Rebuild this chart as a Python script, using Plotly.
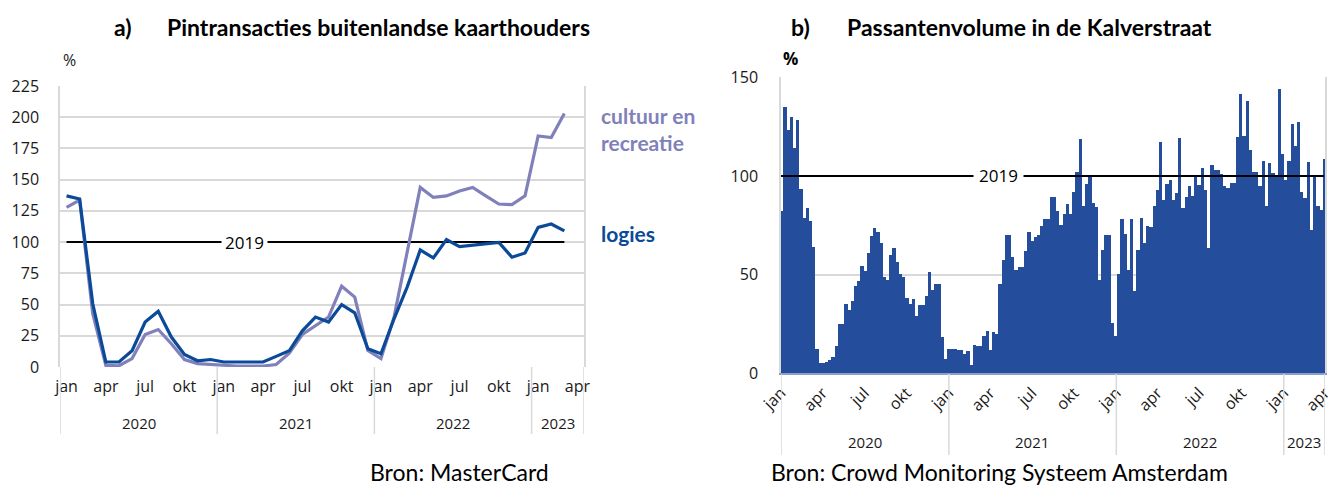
import plotly.graph_objects as go
import pandas as pd

# ---------------- data: panel a (monthly, jan 2020 - mrt 2023) ----------------
month_idx = list(range(39))
logies = [137, 134.5, 50.6, 4, 4, 13, 36, 44.7, 24, 10, 5, 6, 4, 4, 4, 4, 8.5, 13, 29, 40,
          36, 50, 43.4, 14.6, 10.6, 38.6, 64, 93.7, 87.3, 102, 96.4, 97.7, 98.5, 99.8, 87.9,
          91.3, 111.8, 114.5, 109]
cultuur = [127.8, 133.7, 42.6, 1.3, 1, 6.7, 26, 30, 18.6, 6, 2.7, 2, 1, 0.8, 0.8, 0.8, 2, 11,
           26, 33, 40, 64.7, 56, 13.3, 6.7, 40, 90.5, 143.8, 135.8, 137, 141, 143.8, 137,
           130.5, 130, 137, 185, 183.7, 203]
ref_2019 = 100
a_ticks = [0, 3, 6, 9, 12, 15, 18, 21, 24, 27, 30, 33, 36, 39]
a_ticktext = ['jan', 'apr', 'jul', 'okt'] * 3 + ['jan', 'apr']
years = ['2020', '2021', '2022', '2023']
a_year_start = [-0.5, 11.5, 23.5, 35.5]
a_year_end = [11.5, 23.5, 35.5, 39.5]

# ---------------- data: panel b (weekly passers-by, % of 2019) ----------------
kalver = [82, 135, 123, 129.6, 114, 128, 93, 78.5, 83.6, 77, 64, 12, 5, 5, 5.5, 6.5, 8, 13.8,
          24.8, 24.8, 35, 32, 36.6, 44, 46.5, 54, 51.5, 61, 69.5, 73.5, 71.5, 66, 48.6, 47.3,
          60, 63.3, 56, 50, 48.6, 38, 35, 37.7, 29, 34.6, 34.6, 39, 51.4, 42, 45.3, 45.3,
          18.2, 7.3, 12.2, 12.2, 12.2, 11.5, 11.5, 9.8, 11.3, 4, 14, 13.5, 13.5, 18.6, 21.5,
          11.8, 21, 20, 45, 57.4, 70, 70, 59, 52, 53.5, 53.5, 62, 71.3, 66.7, 69, 69.8, 74.3,
          78, 78, 89, 89, 82, 74.8, 80.7, 85.8, 80.6, 91.6, 102, 118.6, 84.5, 96, 99.7, 86,
          84, 47, 62.5, 69.8, 69.8, 25.3, 18.6, 50.3, 78, 70.6, 52.4, 78.2, 41.4, 62.5, 78.5,
          65.9, 74.3, 74, 84.5, 92.6, 117, 87.8, 95.8, 97.6, 87.8, 91.2, 119, 83.6, 89.2,
          94.6, 89.5, 99.3, 95.4, 103.9, 92.6, 63.3, 105.6, 103, 103, 101, 94.6, 93.8, 96.3,
          96.3, 119.4, 141.6, 120, 138, 112.8, 102, 102, 95, 107.6, 84.5, 106.4, 101.4, 99.3,
          144, 111, 98, 107.6, 126.4, 114.9, 127.2, 91.9, 88.7, 106.8, 72.6, 99.7, 84.8, 82.8,
          108.4]
weeks = pd.date_range('2019-12-30', periods=len(kalver), freq='7D')
b_range = ['2020-01-01', '2023-04-01']
b_ticks = pd.date_range('2020-01-01', '2023-04-01', freq='3MS')
b_ticktext = ['jan', 'apr', 'jul', 'okt'] * 3 + ['jan', 'apr']
b_year_start = ['2020-01-01', '2021-01-01', '2022-01-01', '2023-01-01']
b_year_end = ['2021-01-01', '2022-01-01', '2023-01-01', '2023-04-01']

# ---------------- styling ----------------
W, H = 1338, 485
def px(x):
    return x / W
def py(y):
    return 1 - y / H

C_LOG = '#0B4A99'
C_CUL = '#8080BA'
C_BAR = '#244E9C'
GRID = '#D9D9D9'
TICKFONT = dict(family='Open Sans', size=16, color='#1a1a1a')
TITLEFONT = dict(family='Lato', size=23, color='#000000')

fig = go.Figure()

# panel a
fig.add_trace(go.Scatter(x=month_idx, y=[ref_2019] * len(month_idx), mode='lines',
                         line=dict(color='black', width=2), xaxis='x', yaxis='y',
                         showlegend=False, hoverinfo='skip'))
fig.add_trace(go.Scatter(x=month_idx, y=cultuur, mode='lines', name='cultuur en recreatie',
                         line=dict(color=C_CUL, width=3.2), xaxis='x', yaxis='y',
                         showlegend=False))
fig.add_trace(go.Scatter(x=month_idx, y=logies, mode='lines', name='logies',
                         line=dict(color=C_LOG, width=3.2), xaxis='x', yaxis='y',
                         showlegend=False))

# panel b
day_ms = 86400000
fig.add_trace(go.Bar(x=weeks, y=kalver, width=7 * day_ms, offset=0,
                     marker=dict(color=C_BAR, line=dict(width=0)),
                     xaxis='x2', yaxis='y2', showlegend=False))
fig.add_trace(go.Scatter(x=[b_range[0], '2023-03-30'], y=[ref_2019, ref_2019], mode='lines',
                         line=dict(color='black', width=2), xaxis='x2', yaxis='y2',
                         showlegend=False, hoverinfo='skip'))

fig.update_layout(
    width=W, height=H,
    margin=dict(l=0, r=0, t=0, b=0, autoexpand=False),
    paper_bgcolor='white', plot_bgcolor='white',
    bargap=0,
    xaxis=dict(domain=[px(60), px(584)], range=[-0.5, 39.5], tickmode='array',
               tickvals=a_ticks, ticktext=a_ticktext, showgrid=False, zeroline=False,
               showline=False, ticks='', tickfont=TICKFONT, ticklabelstandoff=8,
               automargin=False, anchor='y'),
    yaxis=dict(domain=[py(367), py(86)], range=[0, 225], dtick=25, tick0=0,
               showgrid=True, gridcolor=GRID, gridwidth=1.5, zeroline=False,
               showline=True, linecolor=GRID, linewidth=1.5, mirror=True,
               ticks='', tickfont=TICKFONT, ticklabelstandoff=16, automargin=False,
               anchor='x'),
    xaxis2=dict(domain=[px(781), px(1325)], type='date', range=b_range, tickmode='array',
                tickvals=list(b_ticks), ticktext=b_ticktext, tickangle=-45,
                showgrid=False, zeroline=False, showline=True, linecolor='#8C9FCB',
                linewidth=2, ticks='', tickfont=TICKFONT, ticklabelstandoff=2,
                automargin=False, anchor='y2'),
    yaxis2=dict(domain=[py(373.3), py(77.3)], range=[0, 150], dtick=50, tick0=0,
                showgrid=True, gridcolor=GRID, gridwidth=1.5, zeroline=False,
                showline=True, linecolor=GRID, linewidth=1.5, mirror=True,
                ticks='', tickfont=TICKFONT, ticklabelstandoff=18, automargin=False,
                anchor='x2'),
)

shapes = []
for xs in a_year_start + [a_year_end[-1]]:
    shapes.append(dict(type='line', xref='x', yref='paper', x0=xs, x1=xs,
                       y0=py(367), y1=py(434), line=dict(color=GRID, width=1.5)))
for xs in b_year_start + [b_year_end[-1]]:
    shapes.append(dict(type='line', xref='x2', yref='paper', x0=xs, x1=xs,
                       y0=py(374), y1=py(455), line=dict(color=GRID, width=1.5)))
fig.update_layout(shapes=shapes)

ann = []
# titles
ann.append(dict(text='<b>a)</b>', x=px(112), y=py(27), xref='paper', yref='paper',
                xanchor='left', yanchor='middle', showarrow=False, font=TITLEFONT))
ann.append(dict(text='<b>Pintransacties buitenlandse kaarthouders</b>', x=px(165), y=py(27),
                xref='paper', yref='paper', xanchor='left', yanchor='middle',
                showarrow=False, font=TITLEFONT))
ann.append(dict(text='<b>b)</b>', x=px(789), y=py(27), xref='paper', yref='paper',
                xanchor='left', yanchor='middle', showarrow=False, font=TITLEFONT))
ann.append(dict(text='<b>Passantenvolume in de Kalverstraat</b>', x=px(845), y=py(27),
                xref='paper', yref='paper', xanchor='left', yanchor='middle',
                showarrow=False, font=TITLEFONT))
# % labels
ann.append(dict(text='%', x=px(61), y=py(60), xref='paper', yref='paper', xanchor='left',
                yanchor='middle', showarrow=False,
                font=dict(family='Open Sans', size=16, color='#1a1a1a')))
ann.append(dict(text='<b>%</b>', x=px(781), y=py(58), xref='paper', yref='paper',
                xanchor='left', yanchor='middle', showarrow=False,
                font=dict(family='Open Sans', size=17, color='#000000')))
# series labels
ann.append(dict(text='<b>cultuur en<br>recreatie</b>', x=px(599), y=py(129), xref='paper',
                yref='paper', xanchor='left', yanchor='middle', align='left',
                showarrow=False, font=dict(family='Lato', size=21, color=C_CUL)))
ann.append(dict(text='<b>logies</b>', x=px(599), y=py(233), xref='paper', yref='paper',
                xanchor='left', yanchor='middle', showarrow=False,
                font=dict(family='Lato', size=21, color=C_LOG)))
# 2019 labels
ann.append(dict(text='2019', x=13.6, y=ref_2019, xref='x', yref='y', xanchor='center',
                yanchor='middle', showarrow=False, bgcolor='white', borderpad=3,
                font=dict(family='Open Sans', size=17, color='#000000')))
ann.append(dict(text='2019', x='2021-04-20', y=ref_2019, xref='x2', yref='y2',
                xanchor='center', yanchor='middle', showarrow=False, bgcolor='white',
                borderpad=5, font=dict(family='Open Sans', size=17, color='#000000')))
# year labels
for s, e, yr in zip(a_year_start, a_year_end, years):
    ann.append(dict(text=yr, x=(s + e) / 2, y=py(423), xref='x', yref='paper',
                    xanchor='center', yanchor='middle', showarrow=False,
                    font=dict(family='Open Sans', size=15, color='#1a1a1a')))
for s, e, yr in zip(b_year_start, b_year_end, years):
    mid = pd.Timestamp(s) + (pd.Timestamp(e) - pd.Timestamp(s)) / 2
    ann.append(dict(text=yr, x=mid.strftime('%Y-%m-%d'), y=py(442), xref='x2', yref='paper',
                    xanchor='center', yanchor='middle', showarrow=False,
                    font=dict(family='Open Sans', size=15, color='#1a1a1a')))
# sources
ann.append(dict(text='Bron: MasterCard', x=px(460), y=py(472), xref='paper', yref='paper',
                xanchor='center', yanchor='middle', showarrow=False,
                font=dict(family='Lato', size=23, color='#000000')))
ann.append(dict(text='Bron: Crowd Monitoring Systeem Amsterdam', x=px(999), y=py(472),
                xref='paper', yref='paper', xanchor='center', yanchor='middle',
                showarrow=False, font=dict(family='Lato', size=23, color='#000000')))
fig.update_layout(annotations=ann)

fig.write_html('out.html', config={'displayModeBar': False},
               post_script="document.body.style.margin='0px';"
                           "document.body.style.overflow='hidden';")
